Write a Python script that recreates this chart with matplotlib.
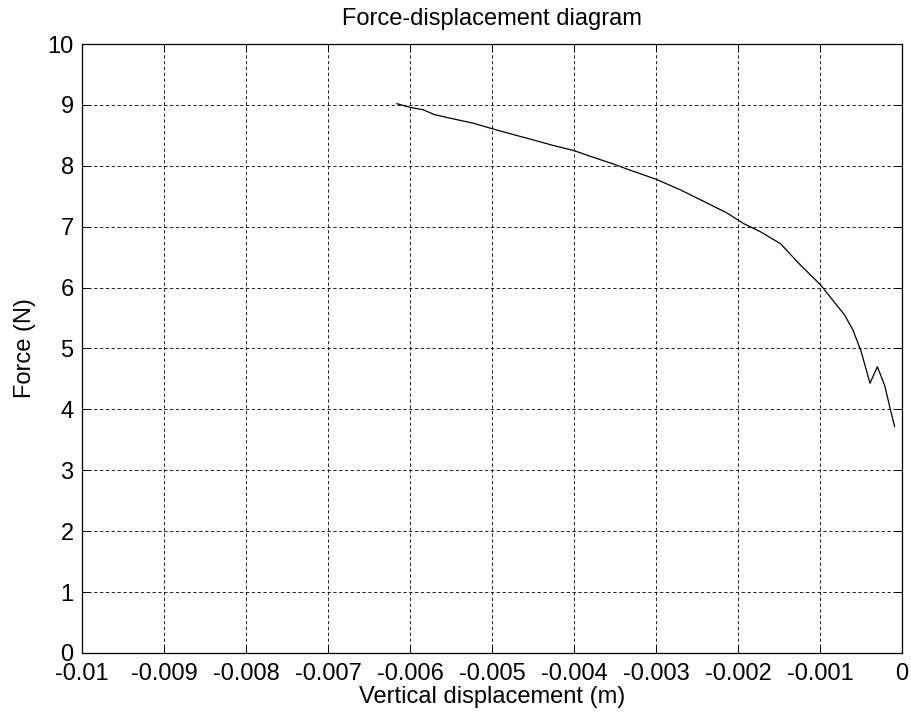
import numpy as np
import matplotlib
matplotlib.use("Agg")
import matplotlib.pyplot as plt

# Force-displacement data
displacement = [-0.00616, -0.00600, -0.00584, -0.00570, -0.00547, -0.00523, -0.00500,
                -0.00476, -0.00451, -0.00427, -0.00400, -0.00381, -0.00352, -0.00332,
                -0.00300, -0.00271, -0.00238, -0.00214, -0.00193, -0.00173, -0.00148,
                -0.00126, -0.00099, -0.00070, -0.00060, -0.00050, -0.00039, -0.00030,
                -0.00021, -0.00014, -0.00009]
force = [9.02, 8.96, 8.92, 8.84, 8.77, 8.70, 8.61,
         8.52, 8.43, 8.34, 8.25, 8.16, 8.03, 7.93,
         7.78, 7.61, 7.39, 7.23, 7.05, 6.92, 6.72,
         6.40, 6.04, 5.55, 5.31, 4.96, 4.43, 4.70,
         4.39, 3.99, 3.72]

x_ticks = np.round(np.arange(-0.010, 0.0001, 0.001), 3)
x_tick_labels = ["-0.01", "-0.009", "-0.008", "-0.007", "-0.006", "-0.005",
                 "-0.004", "-0.003", "-0.002", "-0.001", "0"]
y_ticks = list(range(0, 11))

plt.rcParams['font.family'] = ['Liberation Sans', 'DejaVu Sans']

fig = plt.figure(figsize=(9.12, 7.19), dpi=100)
ax = fig.add_axes([0.0899, 0.0918, 0.8991, 0.847])

ax.plot(displacement, force, color='black', linewidth=0.9)

ax.set_xlim(-0.01, 0)
ax.set_ylim(0, 10)
ax.set_xticks(x_ticks)
ax.set_xticklabels(x_tick_labels)
ax.set_yticks(y_ticks)

# MATLAB-like dashed grid, inward ticks on all four sides
ax.grid(True, color='black', linestyle=(0, (4, 3)), linewidth=0.6)
ax.tick_params(direction='in', length=5, width=0.7, top=True, right=True,
               labelsize=17)
ax.tick_params(axis='x', pad=7)
ax.tick_params(axis='y', pad=6)
for s in ax.spines.values():
    s.set_linewidth(0.9)

ax.set_title("Force-displacement diagram", fontsize=17, pad=14)
ax.set_xlabel("Vertical displacement (m)", fontsize=17, labelpad=1)
ax.set_ylabel("Force (N)", fontsize=17, labelpad=8)

plt.savefig('out.png', dpi=100)
